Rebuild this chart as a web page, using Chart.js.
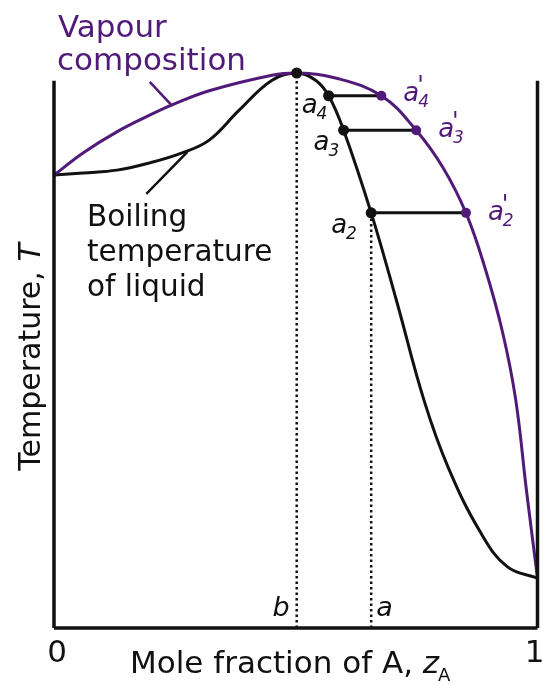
<!DOCTYPE html>
<html>
<head>
<meta charset="utf-8">
<script src="https://cdn.jsdelivr.net/npm/chart.js@4/dist/chart.umd.min.js"></script>
<style>
  html, body { margin: 0; padding: 0; background: #fff; }
  #wrap { width: 543px; height: 684px; position: relative; }
</style>
</head>
<body>
<div id="wrap"><canvas id="phaseChart"></canvas></div>
<script>
// mole fraction of A (0..1) and temperature (arbitrary units, azeotrope = 100)
const vapourX = [0, 0.060, 0.130, 0.198, 0.243, 0.321, 0.451, 0.502, 0.582, 0.677, 0.749, 0.805, 0.852, 0.891, 0.928, 0.955, 0.977, 1];
const vapourT = [81.6, 85.6, 89.4, 92.4, 94.2, 96.8, 99.6, 100, 99.1, 95.9, 89.7, 82.9, 74.8, 65.0, 53.2, 41.1, 24.9, 9.0];

const liquidX = [0, 0.060, 0.130, 0.198, 0.265, 0.321, 0.383, 0.451, 0.502, 0.541, 0.568, 0.599, 0.656, 0.708, 0.765, 0.815, 0.883, 0.938, 1];
const liquidT = [81.6, 82.0, 82.5, 83.8, 85.6, 87.9, 93.3, 98.7, 100, 98.7, 95.9, 89.7, 74.8, 59.1, 41.1, 29.0, 17.1, 11.0, 9.0];

// tie lines a_n (liquid) -> a_n' (vapour)
const tieNames = ['4', '3', '2'];
const tieT = [95.9, 89.7, 74.8];
const tieLiquidX = [0.568, 0.599, 0.656];
const tieVapourX = [0.677, 0.749, 0.852];

const azeoX = 0.502, azeoT = 100;   // point b
const startX = 0.656;               // point a
const axisTopT = 98.6;
const xTickLabels = ['0', '1'];

const purple = '#511a78';
const black = '#111';

const pts = (xs, ts) => xs.map((v, i) => ({ x: v, y: ts[i] }));
const seg = (x0, t0, x1, t1) => [{ x: x0, y: t0 }, { x: x1, y: t1 }];

const lineDs = (data, color, extra) => Object.assign({
    data: data,
    showLine: true,
    borderColor: color,
    borderWidth: 3,
    pointRadius: 0,
    fill: false,
    clip: false,
    order: 2
}, extra || {});

const datasets = [
    // frame
    lineDs(seg(0, axisTopT, 0, 0), black, { borderWidth: 3.5 }),
    lineDs(seg(0, 0, 1, 0), black, { borderWidth: 3.5 }),
    lineDs(seg(1, 0, 1, axisTopT), black, { borderWidth: 3.5 }),
    // dotted verticals b and a
    lineDs(seg(azeoX, 0, azeoX, azeoT), black, { borderWidth: 2.5, borderDash: [2.5, 3] }),
    lineDs(seg(startX, 0, startX, tieT[2]), black, { borderWidth: 2.5, borderDash: [2.5, 3] }),
    // curves
    lineDs(pts(vapourX, vapourT), purple, { tension: 0.4 }),
    lineDs(pts(liquidX, liquidT), black, { tension: 0.4 }),
    // leaders
    lineDs(seg(0.198, 98.4, 0.243, 94.2), purple, { borderWidth: 2.5 }),
    lineDs(seg(0.191, 78.2, 0.276, 85.8), black, { borderWidth: 2.5 })
];
tieT.forEach((t, i) => datasets.push(lineDs(seg(tieLiquidX[i], t, tieVapourX[i], t), black)));

// dots on top
datasets.push({
    data: pts([azeoX].concat(tieLiquidX), [azeoT].concat(tieT)),
    showLine: false, pointRadius: 5.5, pointBackgroundColor: black, pointBorderWidth: 0,
    clip: false, order: 0
});
datasets.push({
    data: pts(tieVapourX, tieT),
    showLine: false, pointRadius: 5, pointBackgroundColor: purple, pointBorderWidth: 0,
    clip: false, order: 0
});

const FONT = '"DejaVu Sans", sans-serif';

// italic "a" with optional prime and subscript
function drawA(ctx, px, py, sub, prime, color) {
    ctx.fillStyle = color;
    ctx.textAlign = 'left';
    ctx.textBaseline = 'alphabetic';
    ctx.font = 'italic 26px ' + FONT;
    ctx.fillText('a', px, py);
    const w = ctx.measureText('a').width;
    if (prime) {
        ctx.font = 'italic 24px ' + FONT;
        ctx.fillText("'", px + w - 2, py - 8);
    }
    ctx.font = 'italic 17px ' + FONT;
    ctx.fillText(sub, px + w - 1, py + 6);
}

// label offsets from the marked points, px
const liquidLabelDx = [-27, -30, -40], liquidLabelDy = [17, 20, 20];

const labelsPlugin = {
    id: 'labels',
    afterDatasetsDraw(chart) {
        const { ctx, scales: { x, y }, chartArea } = chart;
        ctx.save();

        // vapour label
        ctx.fillStyle = purple;
        ctx.font = '31px ' + FONT;
        ctx.textAlign = 'left';
        ctx.textBaseline = 'alphabetic';
        ctx.fillText('Vapour', 58, 37);
        ctx.fillText('composition', 57, 70);

        // liquid label
        ctx.fillStyle = black;
        ctx.font = '29.5px ' + FONT;
        ctx.fillText('Boiling', 87, 226);
        ctx.fillText('temperature', 87, 261);
        ctx.fillText('of liquid', 87, 296);

        // liquid points a4, a3, a2
        tieT.forEach((t, i) => {
            const px = x.getPixelForValue(tieLiquidX[i]);
            const py = y.getPixelForValue(t);
            drawA(ctx, px + liquidLabelDx[i], py + liquidLabelDy[i], tieNames[i], false, black);
        });
        // vapour points a4', a3', a2'
        tieT.forEach((t, i) => {
            const px = x.getPixelForValue(tieVapourX[i]);
            const py = y.getPixelForValue(t);
            drawA(ctx, px + 22, py + 5 + (i > 0 ? 2 : 0), tieNames[i], true, purple);
        });

        // b and a at the foot of the dotted lines
        ctx.fillStyle = black;
        ctx.font = 'italic 27px ' + FONT;
        ctx.textAlign = 'right';
        ctx.fillText('b', x.getPixelForValue(azeoX) - 7, chartArea.bottom - 12);
        ctx.textAlign = 'left';
        ctx.fillText('a', x.getPixelForValue(startX) + 5, chartArea.bottom - 12);

        // tick labels
        ctx.font = '31px ' + FONT;
        ctx.textAlign = 'center';
        ctx.fillText(xTickLabels[0], x.getPixelForValue(0) + 3, 662);
        ctx.fillText(xTickLabels[1], x.getPixelForValue(1) - 3, 662);

        // x title
        ctx.textAlign = 'left';
        const t1 = 'Mole fraction of A, ';
        ctx.font = '31px ' + FONT;
        const w1 = ctx.measureText(t1).width;
        ctx.font = 'italic 31px ' + FONT;
        const w2 = ctx.measureText('z').width;
        const sx = 130;
        ctx.font = '31px ' + FONT;
        ctx.fillText(t1, sx, 673);
        ctx.font = 'italic 31px ' + FONT;
        ctx.fillText('z', sx + w1, 673);
        ctx.font = '18px ' + FONT;
        ctx.fillText('A', sx + w1 + w2 - 1, 681);

        // y title
        ctx.translate(40, 357);
        ctx.rotate(-Math.PI / 2);
        ctx.font = '30px ' + FONT;
        const s1 = 'Temperature, ';
        const v1 = ctx.measureText(s1).width;
        ctx.font = 'italic 30px ' + FONT;
        const v2 = ctx.measureText('T').width;
        const sy = -(v1 + v2) / 2;
        ctx.font = '30px ' + FONT;
        ctx.fillText(s1, sy, 0);
        ctx.font = 'italic 30px ' + FONT;
        ctx.fillText('T', sy + v1, 0);

        ctx.restore();
    }
};

new Chart(document.getElementById('phaseChart'), {
    type: 'scatter',
    data: { datasets: datasets },
    options: {
        responsive: true,
        maintainAspectRatio: false,
        animation: false,
        layout: { padding: { left: 54, right: 3, top: 73, bottom: 56 } },
        plugins: { legend: { display: false }, tooltip: { enabled: false } },
        scales: {
            x: { type: 'linear', min: 0, max: 1, display: false },
            y: { type: 'linear', min: 0, max: 100, display: false }
        }
    },
    plugins: [labelsPlugin]
});
</script>
</body>
</html>
